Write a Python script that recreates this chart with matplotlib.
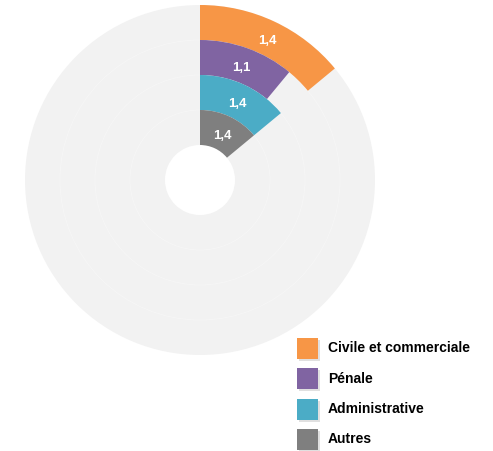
import matplotlib
matplotlib.use("Agg")
import matplotlib.pyplot as plt
from matplotlib.patches import Wedge, Rectangle, Circle
import numpy as np

categories = ["Civile et commerciale", "Pénale", "Administrative", "Autres"]
values = [1.4, 1.1, 1.4, 1.4]
labels = ["1,4", "1,1", "1,4", "1,4"]
colors = ["#F79646", "#8064A2", "#4BACC6", "#7F7F7F"]
scale_max = 10.0

W, H = 493, 451
fig = plt.figure(figsize=(W / 100, H / 100), dpi=100)
ax = fig.add_axes([0, 0, 1, 1])
ax.set_xlim(0, W)
ax.set_ylim(H, 0)
ax.set_aspect("equal")
ax.axis("off")

cx, cy = 200, 180
r_outer = 175
r_hole = 35
ring_w = (r_outer - r_hole) / len(values)

# background track
ax.add_patch(Wedge((cx, cy), r_outer, 0, 360, width=r_outer - r_hole,
                   facecolor="#F2F2F2", edgecolor="none"))
# faint grid circles
for i in range(1, len(values)):
    ax.add_patch(Circle((cx, cy), r_hole + i * ring_w, fill=False,
                        edgecolor="white", linewidth=0.5, alpha=0.35))

for i, (v, lab, col) in enumerate(zip(values, labels, colors)):
    r_out = r_outer - i * ring_w
    ang = v / scale_max * 360.0
    t1, t2 = -90, -90 + ang
    ax.add_patch(Wedge((cx, cy), r_out, t1, t2, width=ring_w,
                       facecolor=col, edgecolor="none"))
    mid = np.deg2rad(-90 + ang / 2)
    rm = r_out - ring_w / 2
    ax.text(cx + rm * np.cos(mid), cy + rm * np.sin(mid) + 3.5, lab,
            ha="center", va="center", color="white", fontsize=9.5,
            fontweight="bold", family="Liberation Sans")

# legend
lx, ly0, dy, sz = 297, 338, 30.3, 21
for i, (cat, col) in enumerate(zip(categories, colors)):
    y = ly0 + i * dy
    ax.add_patch(Rectangle((lx + 2, y + 2), sz, sz, facecolor="#000000",
                           alpha=0.12, edgecolor="none"))
    ax.add_patch(Rectangle((lx, y), sz, sz, facecolor=col, edgecolor="none"))
    ax.text(lx + 31, y + sz / 2, cat, ha="left", va="center", fontsize=10,
            fontweight="bold", family="Liberation Sans", color="black")

fig.savefig("out.png", dpi=100)
